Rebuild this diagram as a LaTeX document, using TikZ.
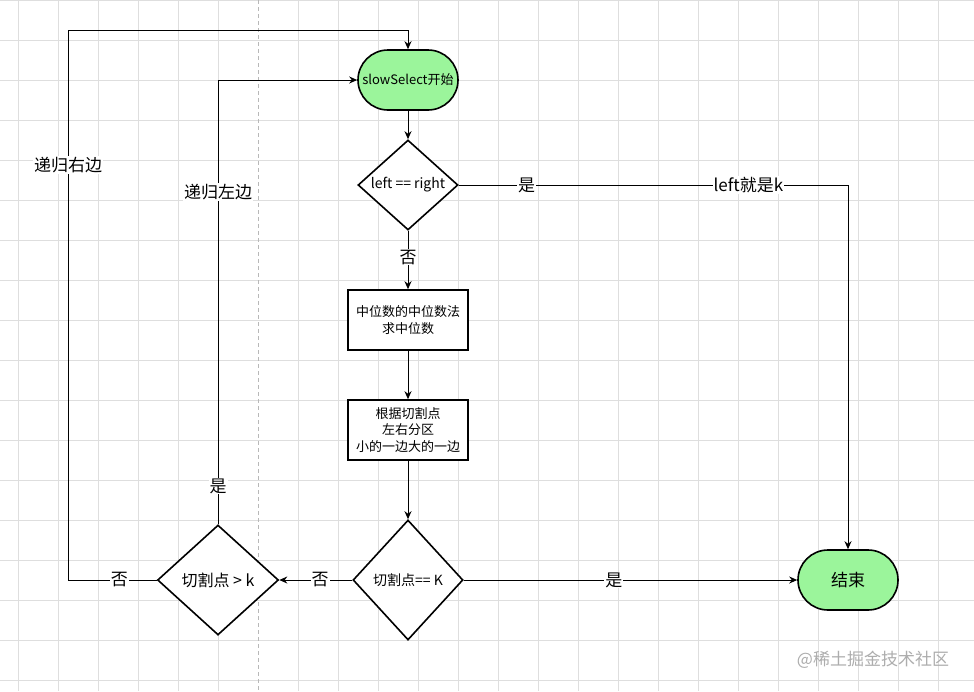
\documentclass[tikz,border=0pt]{standalone}
\usepackage{fontspec}
\newfontfamily\cjk{Noto Sans CJK SC}
\usepackage{tikz}
\usetikzlibrary{shapes.geometric,arrows.meta}
\definecolor{termgreen}{RGB}{155,245,155}

\tikzset{
	gridline/.style={line width=0.6pt, color=black!13},
	term/.style={draw, line width=1.6pt, fill=termgreen, rounded corners=30pt, minimum width=100pt, minimum height=60pt, inner sep=0pt, font=\cjk\fontsize{13}{16}\selectfont},
	procbox/.style={draw, line width=1.6pt, fill=white, minimum width=120pt, minimum height=60pt, inner sep=0pt, align=center, font=\cjk\fontsize{13}{16.5}\selectfont},
	decide/.style={draw, diamond, line width=1.6pt, fill=white, inner sep=0pt, font=\cjk\fontsize{14}{16}\selectfont},
	flow/.style={line width=1pt, -{Stealth[length=8pt,width=7pt]}},
	lbl/.style={fill=white, inner sep=1pt, font=\cjk\fontsize{17}{20}\selectfont}
}

\begin{document}
\begin{tikzpicture}[x=1pt, y=-1pt]
			%%%%% START %%%%%
			\useasboundingbox (0,0) rectangle (974,691);
			\fill[white] (0,0) rectangle (974,691);
			
			% background grid
			\foreach \x in {18,58,...,218,298,338,...,978} \draw[gridline] (\x,0) -- (\x,691);
			\foreach \y in {0,40,...,680} \draw[gridline] (0,\y) -- (974,\y);
			\draw[line width=0.6pt, color=black!28, dash pattern=on 4pt off 3pt] (258,0) -- (258,691);
			
			\node[term] (start) at (408,80) {slowSelect开始};
			\node[decide, minimum width=100pt, minimum height=90pt] (same) at (408,185) {left == right};
			\node[procbox] (median) at (408,320) {中位数的中位数法\\求中位数};
			\node[procbox] (split) at (408,430) {根据切割点\\左右分区\\小的一边大的一边};
			\node[decide, minimum width=110pt, minimum height=120pt] (isk) at (408,580) {切割点== K};
			\node[decide, minimum width=121pt, minimum height=110pt, font=\cjk\fontsize{16}{18}\selectfont] (bigger) at (218,580) {切割点 > k};
			\node[term, font=\cjk\fontsize{17}{20}\selectfont] (finish) at (848,580) {结束};
			
			\coordinate (outer) at (68,30);
			
			\draw[flow] (start) -- (same);
			\draw[flow] (same) -- node[lbl, pos=0.45] {否} (median);
			\draw[flow] (median) -- (split);
			\draw[flow] (split) -- (isk);
			\draw[flow] (isk) -- node[lbl, pos=0.45] {是} (finish);
			\draw[flow] (isk) -- node[lbl, pos=0.44] {否} (bigger);
			\draw[flow] (same.east) -| node[lbl, pos=0.087] {是} node[lbl, pos=0.372] {left就是k} (finish.north);
			\draw[flow] (bigger.north) |- node[lbl, pos=0.043] {是} node[lbl, pos=0.374] {递归左边} (start.west);
			\draw[flow] (bigger.west) -| node[lbl, pos=0.21] {否} node[lbl, pos=0.877] {递归右边} (outer) -| (start.north);
			
			\node[color=black!32, font=\cjk\fontsize{17}{20}\selectfont] (mark) at (873,660) {@稀土掘金技术社区};
			%%%%% END %%%%%
\end{tikzpicture}
\end{document}
